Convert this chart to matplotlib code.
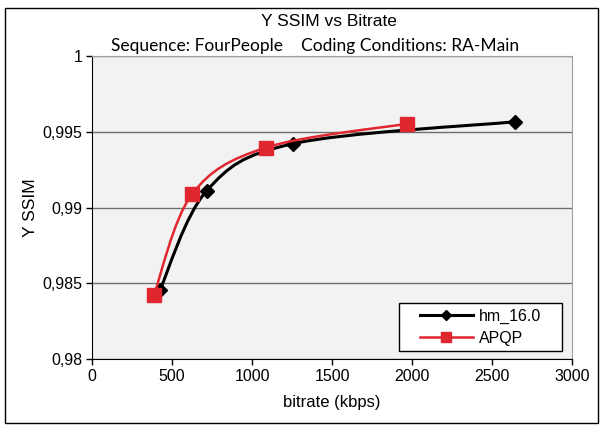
import numpy as np
import matplotlib
matplotlib.use('Agg')
import matplotlib.pyplot as plt
from matplotlib.path import Path
from matplotlib.patches import PathPatch, Rectangle
from matplotlib.lines import Line2D
from matplotlib.ticker import FuncFormatter

# rate / quality points for the two encoders
hm_rate = [424, 718, 1256, 2645]
hm_ssim = [0.98454, 0.99112, 0.99421, 0.99566]
apqp_rate = [387, 624, 1085, 1971]
apqp_ssim = [0.98421, 0.99086, 0.99395, 0.99553]

series_names = ['hm_16.0', 'APQP']
xticks = [0, 500, 1000, 1500, 2000, 2500, 3000]
yticks = [0.98, 0.985, 0.99, 0.995, 1.0]

plt.rcParams['font.family'] = ['Liberation Sans', 'DejaVu Sans']


def smooth_path(x, y):
    # excel-style smoothed line: cubic bezier through every point
    p = np.column_stack([x, y]).astype(float)
    n = len(p)
    verts = [p[0]]
    codes = [Path.MOVETO]
    for i in range(n - 1):
        p0 = p[i - 1] if i > 0 else p[i]
        p3 = p[i + 2] if i + 2 < n else p[i + 1]
        c1 = p[i] + (p[i + 1] - p0) / 6.0
        c2 = p[i + 1] - (p3 - p[i]) / 6.0
        verts += [c1, c2, p[i + 1]]
        codes += [Path.CURVE4] * 3
    return Path(verts, codes)


fig = plt.figure(figsize=(6.02, 4.25), dpi=100)
fig.patch.set_facecolor('white')
ax = fig.add_axes([92 / 602, 1 - 359 / 425, 480 / 602, 303 / 425])
ax.set_facecolor('#F2F2F2')

ax.set_xlim(0, 3000)
ax.set_ylim(0.98, 1.0)
ax.set_xticks(xticks)
ax.set_yticks(yticks)
ax.yaxis.set_major_formatter(FuncFormatter(lambda v, pos: ('%g' % v).replace('.', ',')))
ax.tick_params(direction='out', length=4, width=1, color='black', labelsize=11.5, pad=3)
ax.yaxis.grid(True, color='#6E6E6E', linewidth=1)
ax.set_axisbelow(True)
for side in ['top', 'right']:
    ax.spines[side].set_color('#A0A0A0')
for side in ['left', 'bottom']:
    ax.spines[side].set_color('black')

black = 'black'
red = '#E0262E'

ax.add_patch(PathPatch(smooth_path(hm_rate, hm_ssim), fill=False, edgecolor=black,
                       linewidth=2.2, zorder=3))
ax.plot(hm_rate, hm_ssim, ls='none', marker='D', markersize=7, color=black, zorder=4)
ax.add_patch(PathPatch(smooth_path(apqp_rate, apqp_ssim), fill=False, edgecolor=red,
                       linewidth=1.8, zorder=5))
ax.plot(apqp_rate, apqp_ssim, ls='none', marker='s', markersize=10.5, color=red, zorder=6)

# legend box drawn separately so the entries can sit inset like the excel one
ax.add_patch(Rectangle((0.640, 0.026), 0.339, 0.158, transform=ax.transAxes,
                       facecolor='white', edgecolor='black', linewidth=1, zorder=7))
handles = [Line2D([], [], color=black, lw=2.2, marker='D', markersize=5),
           Line2D([], [], color=red, lw=1.8, marker='s', markersize=6.5)]
leg = ax.legend(handles, series_names, loc='center left', bbox_to_anchor=(0.683, 0.105),
                fontsize=11.5, handlelength=3.3, frameon=False,
                borderpad=0, labelspacing=0.45, handletextpad=0.4, borderaxespad=0)
leg.set_zorder(8)

ax.set_xlabel('bitrate (kbps)', fontsize=12, labelpad=8)
ax.set_ylabel('Y SSIM', fontsize=12.5, labelpad=3)

fig.text(0.546, 1 - 22 / 425, 'Y SSIM vs Bitrate', ha='center', va='center', fontsize=12.5)
fig.text(0.524, 1 - 46 / 425, 'Sequence: FourPeople    Coding Conditions: RA-Main',
         ha='center', va='center', fontsize=12.5, family=['Lato', 'DejaVu Sans'])

# outer chart border
fig.add_artist(Rectangle((5 / 602, 2 / 425), 593 / 602, 415 / 425, transform=fig.transFigure,
                         fill=False, edgecolor='black', linewidth=1))

fig.savefig('out.png', dpi=100)
